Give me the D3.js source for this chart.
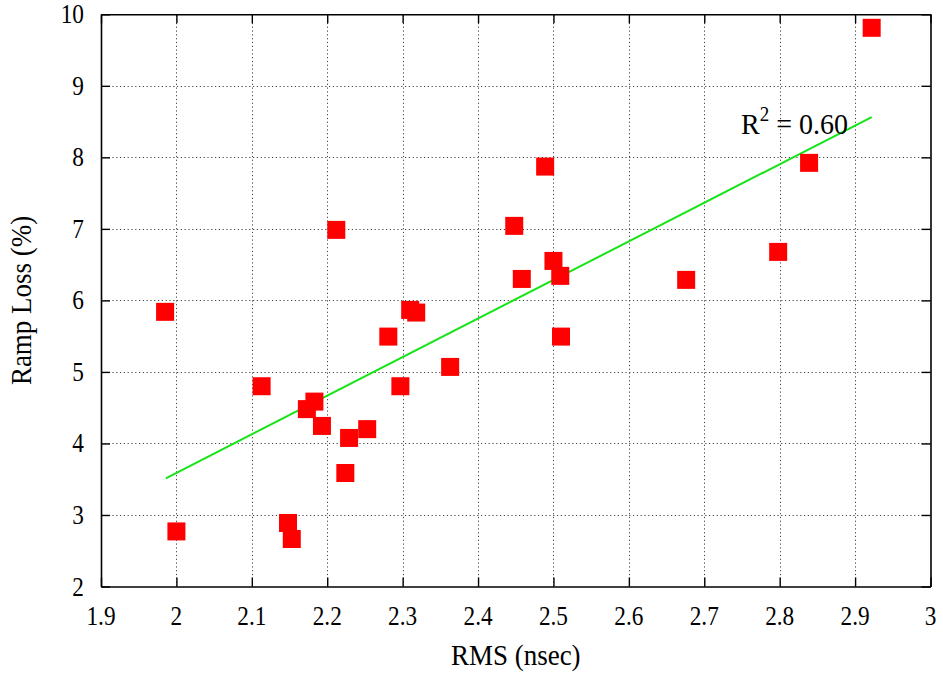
<!DOCTYPE html>
<html>
<head>
<meta charset="utf-8">
<script src="https://cdn.jsdelivr.net/npm/d3@7"></script>
<style>
  html, body { margin: 0; padding: 0; background: #fff; }
  svg { display: block; }
  text { font-family: "Liberation Serif", "Times New Roman", serif; fill: #000; }
</style>
</head>
<body>
<svg id="chart" width="943" height="677"></svg>
<script>
// ---- data ----
const rmsValues = [1.985, 2.0, 2.113, 2.173, 2.183, 2.193, 2.212, 2.224, 2.229, 2.253, 2.148, 2.153, 2.281, 2.297, 2.310, 2.318, 2.363, 2.448, 2.458, 2.489, 2.500, 2.509, 2.510, 2.676, 2.798, 2.839, 2.922];
const lossValues = [5.84, 2.77, 4.80, 4.48, 4.585, 4.245, 6.986, 3.587, 4.077, 4.20, 2.888, 2.664, 5.494, 4.80, 5.867, 5.83, 5.07, 7.042, 6.30, 7.871, 6.552, 6.343, 5.494, 6.287, 6.678, 7.923, 9.811];
const fitX = [1.986, 2.922];
const fitY = [3.513, 8.562];
const xTicks = [1.9, 2.0, 2.1, 2.2, 2.3, 2.4, 2.5, 2.6, 2.7, 2.8, 2.9, 3.0];
const xTickLabels = ["1.9", "2", "2.1", "2.2", "2.3", "2.4", "2.5", "2.6", "2.7", "2.8", "2.9", "3"];
const yTicks = [2, 3, 4, 5, 6, 7, 8, 9, 10];
const yTickLabels = ["2", "3", "4", "5", "6", "7", "8", "9", "10"];
const xLabel = "RMS (nsec)";
const yLabel = "Ramp Loss (%)";
const r2Value = "0.60";

// ---- layout ----
const W = 943, H = 677;
const m = { left: 101, right: 12.5, top: 14.3, bottom: 90.5 };
const svg = d3.select("#chart");
const x = d3.scaleLinear().domain([1.9, 3.0]).range([m.left, W - m.right]);
const y = d3.scaleLinear().domain([2, 10]).range([H - m.bottom, m.top]);

// grid
const grid = svg.append("g").attr("stroke", "#444").attr("stroke-width", 1).attr("stroke-dasharray", "1.2,2.6");
grid.selectAll("line.gx").data(xTicks.slice(1, -1)).join("line")
  .attr("x1", d => Math.round(x(d)) + 0.5).attr("x2", d => Math.round(x(d)) + 0.5)
  .attr("y1", y(2)).attr("y2", y(10));
grid.selectAll("line.gy").data(yTicks.slice(1, -1)).join("line")
  .attr("y1", d => Math.round(y(d)) + 0.5).attr("y2", d => Math.round(y(d)) + 0.5)
  .attr("x1", x(1.9)).attr("x2", x(3.0));

// fit line
svg.append("path")
  .datum(fitX.map((v, i) => [v, fitY[i]]))
  .attr("fill", "none").attr("stroke", "#16e416").attr("stroke-width", 2)
  .attr("d", d3.line().x(d => x(d[0])).y(d => y(d[1])));

// points
const S = 18;
svg.append("g").selectAll("rect").data(rmsValues.map((v, i) => [v, lossValues[i]])).join("rect")
  .attr("x", d => x(d[0]) - S / 2).attr("y", d => y(d[1]) - S / 2)
  .attr("width", S).attr("height", S).attr("fill", "#ff0000");

// axes (inward ticks, mirrored)
const tl = 9;
const axB = svg.append("g").attr("transform", `translate(0,${y(2)})`)
  .call(d3.axisBottom(x).tickValues(xTicks).tickSizeInner(-tl).tickSizeOuter(0).tickFormat(""));
const axT = svg.append("g").attr("transform", `translate(0,${y(10)})`)
  .call(d3.axisTop(x).tickValues(xTicks).tickSizeInner(-tl).tickSizeOuter(0).tickFormat(""));
const axL = svg.append("g").attr("transform", `translate(${x(1.9)},0)`)
  .call(d3.axisLeft(y).tickValues(yTicks).tickSizeInner(-tl).tickSizeOuter(0).tickFormat(""));
const axR = svg.append("g").attr("transform", `translate(${x(3.0)},0)`)
  .call(d3.axisRight(y).tickValues(yTicks).tickSizeInner(-tl).tickSizeOuter(0).tickFormat(""));
[axB, axT, axL, axR].forEach(a => {
  a.selectAll(".domain").attr("stroke", "#000").attr("stroke-width", 1.6);
  a.selectAll(".tick line").attr("stroke", "#000").attr("stroke-width", 1.4);
});

// tick labels (slightly tall, narrow glyphs as in the reference)
svg.append("g").selectAll("text").data(xTicks).join("text")
  .attr("transform", d => `translate(${x(d)},${y(2) + 38}) scale(0.97,1.1)`)
  .attr("text-anchor", "middle").attr("font-size", 24)
  .text((d, i) => xTickLabels[i]);
svg.append("g").selectAll("text").data(yTicks).join("text")
  .attr("transform", d => `translate(${x(1.9) - 17},${y(d) + 9}) scale(0.97,1.1)`)
  .attr("text-anchor", "end").attr("font-size", 24)
  .text((d, i) => yTickLabels[i]);

// axis titles
svg.append("text").attr("transform", `translate(${(x(1.9) + x(3.0)) / 2},665) scale(1,1.08)`)
  .attr("text-anchor", "middle").attr("font-size", 27).text(xLabel);
svg.append("text").attr("transform", `translate(31,${(y(2) + y(10)) / 2}) rotate(-90) scale(1,1.08)`)
  .attr("text-anchor", "middle").attr("font-size", 27).text(yLabel);

// R^2 annotation
const ann = svg.append("text").attr("transform", "translate(741,134) scale(1,1.08)").attr("font-size", 28);
ann.append("tspan").text("R");
ann.append("tspan").attr("dy", -12).attr("font-size", 19).text("2");
ann.append("tspan").attr("dy", 12).text(" = " + r2Value);
</script>
</body>
</html>
